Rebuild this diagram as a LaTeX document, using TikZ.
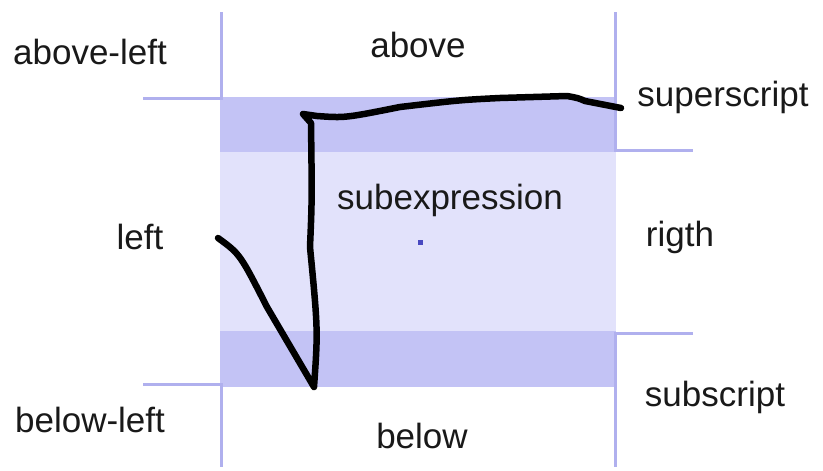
\documentclass[tikz,border=0pt]{standalone}
\usepackage{fontspec}
\setmainfont{Liberation Sans}
\usepackage{tikz}
\usetikzlibrary{positioning, calc}
\usepackage{xcolor}
\definecolor{bandblue}{HTML}{C3C3F5}
\definecolor{paleblue}{HTML}{E2E2FB}
\definecolor{guideblue}{HTML}{B0B0EE}
\definecolor{dotblue}{HTML}{4848C0}

\tikzset{
  lbl/.style={font=\fontsize{35}{40}\selectfont, text=black!90, inner sep=0pt},
  guide/.style={guideblue, line width=3pt},
  rootline/.style={black, line width=6.5pt, line cap=round, line join=round}
}

\begin{document}
\begin{tikzpicture}[x=1pt,y=-1pt]
        \useasboundingbox (0,0) rectangle (823,471);
        % Felder
        \fill[paleblue] (220,97) rectangle (616,387);
        \fill[bandblue] (220,97) rectangle (616,152);
        \fill[bandblue] (220,331) rectangle (616,387);
        % Hilfslinien
        \draw[guide] (221,12)--(221,98)--(143,98);
        \draw[guide] (143,384)--(221,384)--(221,467);
        \draw[guide] (615,12)--(615,150)--(693,150);
        \draw[guide] (693,333)--(615,333)--(615,467);
        % Beschriftungen
        \node[lbl] (aboveleft) at (90,52) {above-left};
        \node[lbl] (above) at (418,45) {above};
        \node[lbl] (superscript) at (723,97) {superscript};
        \node[lbl] (left) at (140,237) {left};
        \node[lbl] (subexpr) at (450,200) {subexpression};
        \node[lbl] (rigth) at (680,237) {rigth};
        \node[lbl] (subscript) at (715,397) {subscript};
        \node[lbl] (belowleft) at (90,420) {below-left};
        \node[lbl] (below) at (422,436) {below};
        % Mittelpunkt
        \fill[dotblue] (418,240) rectangle (423,245);
        % Wurzelzeichen
        \draw[rootline] (218,238) .. controls (240,254) .. (267,307)
          -- (314,387) .. controls (318,330) .. (310,247)
          .. controls (312,200) .. (311,123) -- (303,114)
          -- (317,116) .. controls (345,118) .. (400,107)
          .. controls (460,100) .. (500,98) -- (567,96)
          .. controls (578,98) .. (585,101) -- (621,108);
      \end{tikzpicture}
\end{document}
